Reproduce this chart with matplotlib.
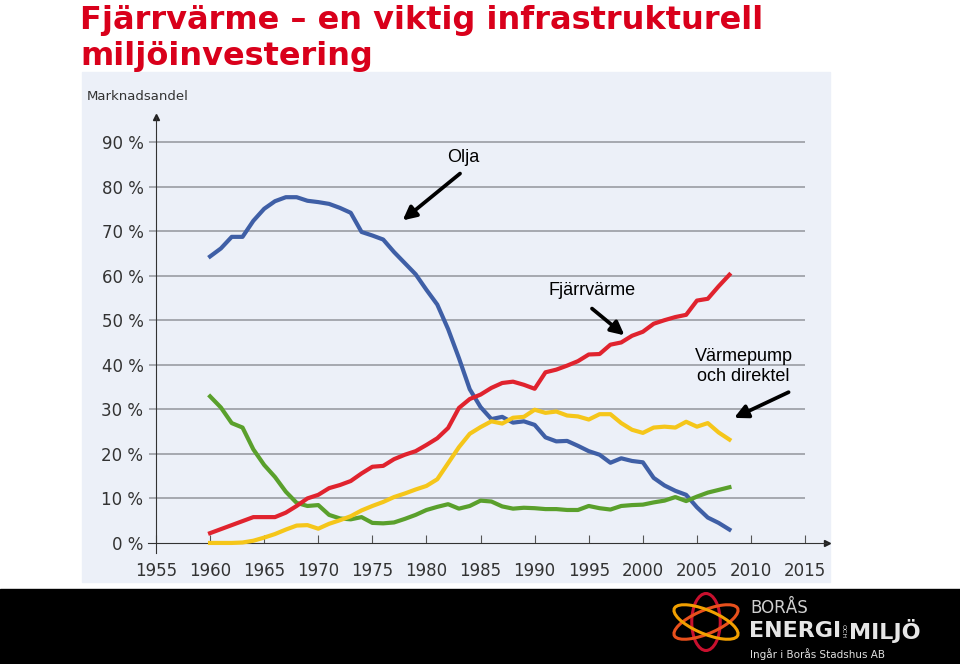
import matplotlib.pyplot as plt
from matplotlib.patches import Rectangle, Ellipse

years = list(range(1960, 2009))
olja = [64.3, 66.1, 68.7, 68.7, 72.3, 75.0, 76.7, 77.6, 77.6, 76.8,
        76.5, 76.1, 75.2, 74.1, 69.8, 69.0, 68.1, 65.3, 62.8, 60.3,
        56.8, 53.5, 48.0, 41.5, 34.5, 30.5, 27.8, 28.3, 27.0, 27.3,
        26.5, 23.7, 22.8, 22.9, 21.8, 20.6, 19.8, 18.0, 19.0, 18.4,
        18.1, 14.6, 12.9, 11.7, 10.8, 8.0, 5.7, 4.5, 3.0]
fjarrvarme = [2.2, 3.1, 4.0, 4.9, 5.8, 5.8, 5.8, 6.8, 8.3, 10.0,
              10.8, 12.3, 13.0, 13.9, 15.6, 17.1, 17.3, 18.8, 19.8, 20.6,
              22.0, 23.5, 25.8, 30.3, 32.3, 33.3, 34.8, 35.9, 36.2, 35.5,
              34.6, 38.3, 38.9, 39.8, 40.8, 42.3, 42.4, 44.5, 45.0, 46.5,
              47.4, 49.2, 50.0, 50.7, 51.2, 54.4, 54.8, 57.6, 60.2]
varmepump = [0, 0, 0, 0.1, 0.5, 1.2, 2.0, 3.0, 3.9, 4.0,
             3.2, 4.3, 5.1, 6.0, 7.3, 8.3, 9.2, 10.3, 11.1, 12.0,
             12.8, 14.3, 17.9, 21.5, 24.5, 26.0, 27.3, 26.8, 28.1, 28.3,
             29.9, 29.2, 29.5, 28.6, 28.4, 27.7, 28.9, 28.9, 26.9, 25.4,
             24.7, 25.9, 26.1, 25.9, 27.2, 26.1, 26.9, 24.8, 23.2]
ovrigt = [32.9, 30.4, 26.9, 25.9, 21.0, 17.5, 14.8, 11.5, 9.0, 8.3,
          8.5, 6.3, 5.5, 5.3, 5.8, 4.5, 4.4, 4.6, 5.4, 6.3,
          7.4, 8.1, 8.7, 7.7, 8.3, 9.5, 9.3, 8.2, 7.7, 7.9,
          7.8, 7.6, 7.6, 7.4, 7.4, 8.3, 7.8, 7.5, 8.3, 8.5,
          8.6, 9.1, 9.5, 10.3, 9.4, 10.4, 11.3, 11.9, 12.5]

xticks = list(range(1955, 2020, 5))
yticks = list(range(0, 100, 10))
ytick_labels = [f'{v} %' for v in yticks]

fig = plt.figure(figsize=(9.6, 6.64), dpi=100)
W, H = 960, 664

# grey chart panel and black footer band
fig.patches.append(Rectangle((82 / W, 1 - 582 / H), 748 / W, 510 / H,
                             transform=fig.transFigure, color='#ECF0F8', zorder=-2))
fig.patches.append(Rectangle((0, 0), 1, 75 / H,
                             transform=fig.transFigure, color='black', zorder=-2))

# title
fig.text(80 / W, 1 - 20 / H, 'Fjärrvärme – en viktig infrastrukturell',
         color='#D9001B', fontsize=23, fontweight='bold', va='center', ha='left')
fig.text(80 / W, 1 - 56 / H, 'miljöinvestering',
         color='#D9001B', fontsize=23, fontweight='bold', va='center', ha='left')

ax = fig.add_axes([148.4 / W, (H - 553.2) / H, (826.8 - 148.4) / W, (553.2 - 117) / H])
ax.set_facecolor('none')
ax.set_xlim(1954.3, 2017.0)
ax.set_ylim(-2.3, 95.6)

for v in yticks[1:]:
    ax.hlines(v, 1954.4, 2015, color='#9A9CA3', lw=1.2, zorder=1)

ax.plot(years, olja, color='#3F5FA6', lw=3, zorder=3)
ax.plot(years, ovrigt, color='#5AA02C', lw=3, zorder=3)
ax.plot(years, varmepump, color='#F5C61A', lw=3, zorder=3)
ax.plot(years, fjarrvarme, color='#E0232E', lw=3, zorder=4)

for s in ['top', 'right']:
    ax.spines[s].set_visible(False)
ax.spines['bottom'].set_position(('data', 0))
ax.spines['left'].set_position(('data', 1955))
ax.spines['bottom'].set_color('#333333')
ax.spines['left'].set_color('#333333')
ax.plot(1, 0, '>', color='#222222', ms=5, transform=ax.get_yaxis_transform(), clip_on=False)
ax.plot(1955, 1, '^', color='#222222', ms=5, transform=ax.get_xaxis_transform(), clip_on=False)

ax.set_xticks(xticks)
ax.set_xticklabels([str(x) for x in xticks])
ax.set_yticks(yticks)
ax.set_yticklabels(ytick_labels)
ax.tick_params(axis='x', direction='in', length=6, color='#555555',
               labelsize=12, labelcolor='#333333', pad=14)
ax.tick_params(axis='y', length=0, labelsize=12, labelcolor='#333333', pad=9)

fig.text(87 / W, 1 - 97 / H, 'Marknadsandel', fontsize=9.5, color='#333333',
         va='center', ha='left')

arrow = dict(arrowstyle='-|>', lw=2.7, color='black', mutation_scale=20)
ax.annotate('', xy=(1977.6, 72.0), xytext=(1983.3, 83.3), arrowprops=arrow)
ax.text(1983.4, 86.6, 'Olja', fontsize=13, family='Liberation Sans', ha='center', va='center')
ax.annotate('', xy=(1998.5, 46.2), xytext=(1995.1, 53.0), arrowprops=arrow)
ax.text(1995.3, 56.6, 'Fjärrvärme', fontsize=13, family='Liberation Sans', ha='center', va='center')
ax.annotate('', xy=(2008.2, 27.8), xytext=(2013.7, 34.1), arrowprops=arrow)
ax.text(2009.3, 39.6, 'Värmepump\noch direktel', fontsize=13, family='Liberation Sans',
        ha='center', va='center', linespacing=1.3)

# footer logo
lax = fig.add_axes([668 / W, 12 / H, 76 / W, 60 / H])
lax.set_xlim(-1, 1)
lax.set_ylim(-1, 1)
lax.axis('off')
for ang, col in [(90, '#C8102E'), (210, '#E8501C'), (330, '#F2A000')]:
    lax.add_patch(Ellipse((0, 0), 1.9, 0.75, angle=ang, fill=False, lw=2.2, color=col))

fig.text(750 / W, 1 - 608 / H, 'BORÅS', fontsize=12, color='#CFCFCF', va='center', ha='left')
fig.text(749 / W, 1 - 631 / H, 'ENERGI', fontsize=16, fontweight='bold', color='#E6E6E6',
         va='center', ha='left')
fig.text(843.5 / W, 1 - 631 / H, 'OCH', fontsize=4.5, color='#E6E6E6', rotation=-90,
         va='center', ha='center')
fig.text(849 / W, 1 - 631 / H, 'MILJÖ', fontsize=16, fontweight='bold', color='#E6E6E6',
         va='center', ha='left')
fig.text(750 / W, 1 - 654 / H, 'Ingår i Borås Stadshus AB', fontsize=7.5, color='#E0E0E0',
         va='center', ha='left')

fig.savefig('out.png', dpi=100)
